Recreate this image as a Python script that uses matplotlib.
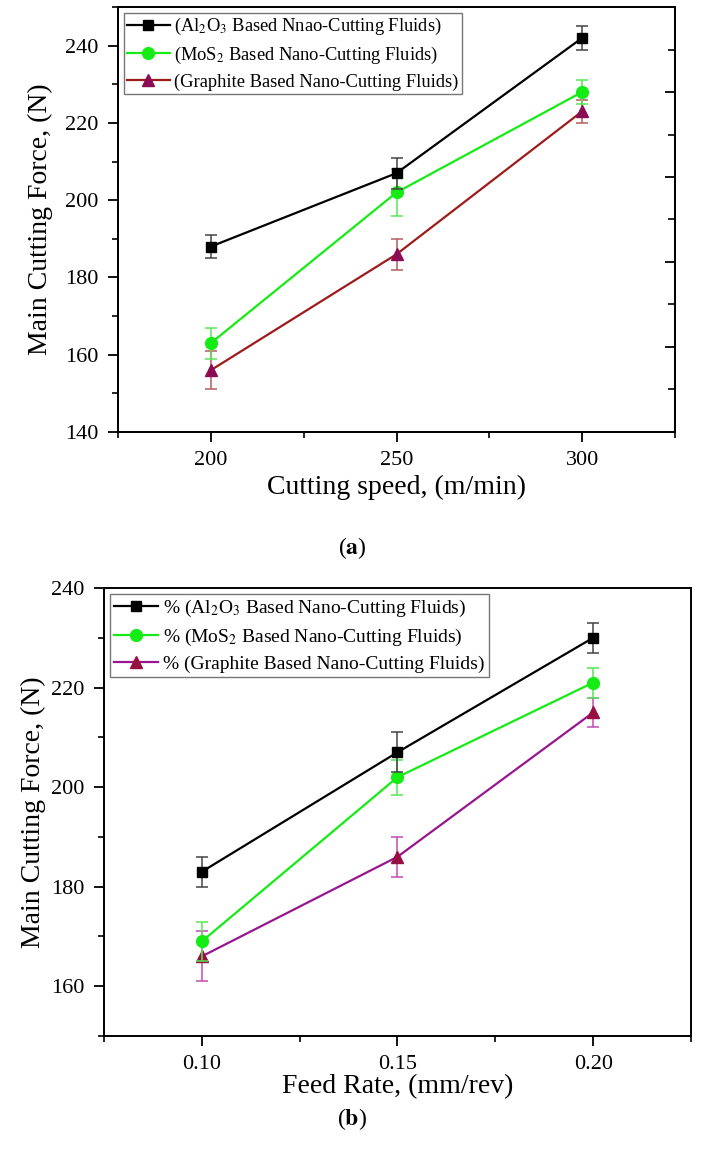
import matplotlib.pyplot as plt
from matplotlib.ticker import MultipleLocator, FixedLocator

plt.rcParams['font.family'] = ['Liberation Serif', 'DejaVu Serif']
plt.rcParams['mathtext.fontset'] = 'stix'

# panel (a): cutting speed
speed = [200, 250, 300]
a_al2o3 = [188, 207, 242]
a_al2o3_err = [3, 4, 3]
a_mos2 = [163, 202, 228]
a_mos2_err = [4, 6, 3]
a_graph = [156, 186, 223]
a_graph_err = [5, 4, 3]
a_labels = [r'(Al$_2$O$_3$ Based Nnao-Cutting Fluids)',
            r'(MoS$_2$ Based Nano-Cutting Fluids)',
            '(Graphite Based Nano-Cutting Fluids)']

# panel (b): feed rate
feed = [0.10, 0.15, 0.20]
b_al2o3 = [183, 207, 230]
b_al2o3_err = [3, 4, 3]
b_mos2 = [169, 202, 221]
b_mos2_err = [4, 3.5, 3]
b_graph = [166, 186, 215]
b_graph_err = [5, 4, 3]
b_labels = [r'% (Al$_2$O$_3$ Based Nano-Cutting Fluids)',
            r'% (MoS$_2$ Based Nano-Cutting Fluids)',
            '% (Graphite Based Nano-Cutting Fluids)']

W, H = 703, 1150
fig = plt.figure(figsize=(W / 100, H / 100), dpi=100)


def px_axes(left, top, right, bottom):
    return fig.add_axes([left / W, 1 - bottom / H, (right - left) / W, (bottom - top) / H])


def draw(ax, x, series, errs, labels, styles, legend_size, ylabel_pad):
    for y, e, lab, st in zip(series, errs, labels, styles):
        ax.errorbar(x, y, yerr=e, fmt='none', ecolor=st['ecolor'], elinewidth=1.1,
                    capsize=4, capthick=1.1, zorder=st['z'])
        ax.plot(x, y, color=st['color'], marker=st['marker'], markersize=st['ms'],
                markerfacecolor=st['mfc'], markeredgecolor=st['mfc'], linewidth=1.6,
                label=lab, zorder=st['z'] + 0.5)
    leg = ax.legend(loc='upper left', fontsize=legend_size, frameon=True, fancybox=False,
                    edgecolor='#555555', handlelength=2.3, handletextpad=0.25,
                    labelspacing=0.4, borderpad=0.2, borderaxespad=0.3)
    leg.get_frame().set_linewidth(1.0)
    for sp in ax.spines.values():
        sp.set_linewidth(1.4)
    ax.tick_params(which='major', direction='out', length=7, width=1.3, labelsize=16,
                   pad=7, top=False, right=False)
    ax.tick_params(which='minor', direction='out', length=4, width=1.2,
                   top=False, right=False)
    ax.set_ylabel('Main Cutting Force, (N)', fontsize=20, labelpad=ylabel_pad)


# ---- (a)
ax1 = px_axes(118, 7, 675, 432)
styles_a = [
    dict(color='black', mfc='black', ecolor='#444444', marker='s', ms=7, z=6),
    dict(color='#14EC14', mfc='#14EC14', ecolor='#55E855', marker='o', ms=8.5, z=5),
    dict(color='#9E1B1B', mfc='#8C0B55', ecolor='#B35C5C', marker='^', ms=9, z=4),
]
draw(ax1, speed, [a_al2o3, a_mos2, a_graph], [a_al2o3_err, a_mos2_err, a_graph_err],
     a_labels, styles_a, 13.3, 8.5)
ax1.set_xlim(175, 325)
ax1.set_ylim(140, 250)
ax1.xaxis.set_major_locator(FixedLocator(speed))
ax1.xaxis.set_minor_locator(MultipleLocator(25))
ax1.yaxis.set_major_locator(MultipleLocator(20))
ax1.yaxis.set_minor_locator(MultipleLocator(10))
ax1.set_xlabel('Cutting speed, (m/min)', fontsize=20, labelpad=3)

# unlabeled right-hand scale
ax1r = ax1.twinx()
ax1r.set_position(ax1.get_position())
ax1r.set_ylim(0, 1)
ax1r.yaxis.set_major_locator(FixedLocator([0.2, 0.4, 0.6, 0.8]))
ax1r.yaxis.set_minor_locator(FixedLocator([0.1, 0.3, 0.5, 0.7, 0.9]))
ax1r.tick_params(which='major', direction='in', length=7, width=1.3, labelright=False)
ax1r.tick_params(which='minor', direction='in', length=5, width=1.2)
for sp in ax1r.spines.values():
    sp.set_linewidth(1.4)

fig.text(352 / W, 1 - 548 / H, r'($\mathbf{a}$)', ha='center', va='center', fontsize=17)

# ---- (b)
ax2 = px_axes(104, 588, 691, 1036)
styles_b = [
    dict(color='black', mfc='black', ecolor='#444444', marker='s', ms=7, z=6),
    dict(color='#14EC14', mfc='#14EC14', ecolor='#55E855', marker='o', ms=8.5, z=5),
    dict(color='#97168F', mfc='#970F40', ecolor='#C24CB5', marker='^', ms=9, z=4),
]
draw(ax2, feed, [b_al2o3, b_mos2, b_graph], [b_al2o3_err, b_mos2_err, b_graph_err],
     b_labels, styles_b, 14, 4)
ax2.set_xlim(0.075, 0.225)
ax2.set_ylim(150, 240)
ax2.xaxis.set_major_locator(FixedLocator(feed))
ax2.xaxis.set_minor_locator(MultipleLocator(0.025))
ax2.set_xticklabels(['0.10', '0.15', '0.20'])
ax2.yaxis.set_major_locator(MultipleLocator(20))
ax2.yaxis.set_minor_locator(MultipleLocator(10))
ax2.set_xlabel('Feed Rate, (mm/rev)', fontsize=20, labelpad=0)

fig.text(352 / W, 1 - 1119 / H, r'($\mathbf{b}$)', ha='center', va='center', fontsize=17)

fig.savefig('out.png', dpi=100)
